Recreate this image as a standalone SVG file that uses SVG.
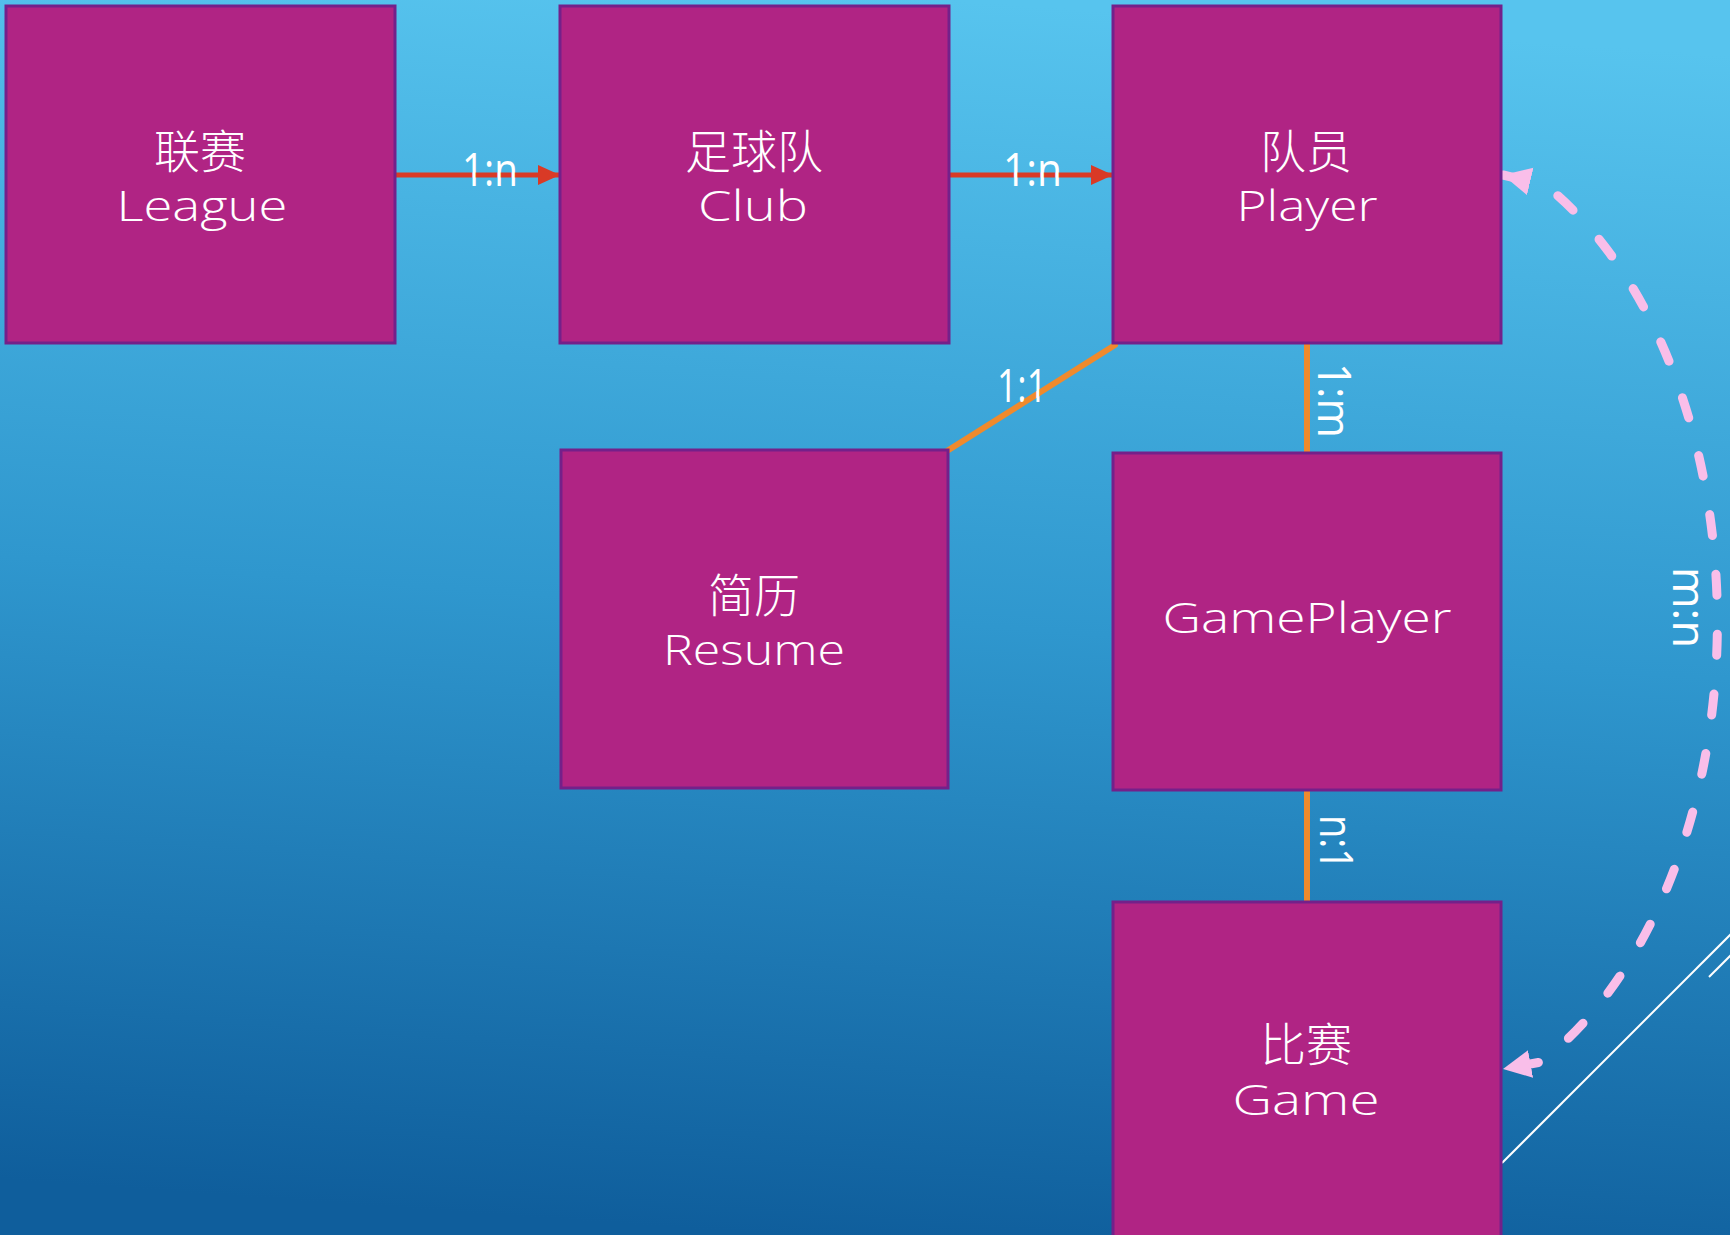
<svg xmlns="http://www.w3.org/2000/svg" width="1730" height="1235" viewBox="0 0 1730 1235">
<defs>
<linearGradient id="bg" x1="0.55" y1="0" x2="0.45" y2="1">
<stop offset="0" stop-color="#57C4EE"/>
<stop offset="0.5" stop-color="#2F97CE"/>
<stop offset="1" stop-color="#0F5E9C"/>
</linearGradient>
<marker id="redHead" markerUnits="userSpaceOnUse" markerWidth="26" markerHeight="24" refX="22" refY="11" orient="auto">
<path d="M0,1 L22,11 L0,21 Z" fill="#D93A26"/>
</marker>
<marker id="pinkHead" markerUnits="userSpaceOnUse" markerWidth="32" markerHeight="32" refX="28" refY="14" orient="auto-start-reverse">
<path d="M0,0 L28,14 L0,28 Z" fill="#F9BEE9"/>
</marker>
<style>
.box{fill:#B02484;stroke:#74208A;stroke-width:3}
.t{fill:#FFFFFF;text-anchor:middle}
.cjk{font-size:46px;font-family:"Noto Sans CJK SC","Noto Sans",sans-serif;font-weight:300}
.lat{font-size:42px;font-weight:300;font-family:"Open Sans","Lato","Noto Sans",sans-serif}
.lbl{fill:#FFFFFF;font-family:"Open Sans","Lato","Noto Sans",sans-serif;font-size:46px;font-weight:400}
.red{stroke:#D93A26;stroke-width:5;fill:none;marker-end:url(#redHead)}
.org{stroke:#F08A2C;stroke-width:6;stroke-linecap:round;fill:none}
.pink{stroke:#F9BEE9;stroke-width:9;fill:none;stroke-linecap:round;stroke-dasharray:21 39;marker-start:url(#pinkHead);marker-end:url(#pinkHead)}
.deco{stroke:#FFFFFF;stroke-width:2;fill:none}
</style>
</defs>
<rect x="0" y="0" width="1730" height="1235" fill="url(#bg)"/>
<g id="decoration">
<line class="deco" x1="1502" y1="1163" x2="1732" y2="933"/>
<line class="deco" x1="1709" y1="977" x2="1732" y2="954"/>
</g>
<g id="connectors">
<line class="red" x1="392" y1="175" x2="560" y2="175"/>
<line class="red" x1="947" y1="175" x2="1113" y2="175"/>
<line class="org" x1="1115" y1="345" x2="947" y2="451"/>
<line class="org" x1="1307" y1="343" x2="1307" y2="454"/>
<line class="org" x1="1307" y1="791" x2="1307" y2="902"/>
<path class="pink" d="M1503,175 L1545,185 A317,491 0 0 1 1541,1062 L1503,1069"/>
<text class="lbl" x="462" y="186" textLength="56" lengthAdjust="spacingAndGlyphs">1:n</text>
<text class="lbl" x="1003" y="186" textLength="59" lengthAdjust="spacingAndGlyphs">1:n</text>
<text class="lbl" x="997" y="402" textLength="50" lengthAdjust="spacingAndGlyphs">1:1</text>
<text class="lbl" transform="translate(1318,363) rotate(90)" x="0" y="0" textLength="75" lengthAdjust="spacingAndGlyphs">1:m</text>
<text class="lbl" transform="translate(1320,815) rotate(90)" x="0" y="0" textLength="55" lengthAdjust="spacingAndGlyphs">n:1</text>
<text class="lbl" transform="translate(1673,567) rotate(90)" x="0" y="0" textLength="81" lengthAdjust="spacingAndGlyphs">m:n</text>
</g>
<g id="league">
<rect class="box" x="6" y="6" width="389" height="337"/>
<text class="t cjk" x="200" y="168">联赛</text>
<text class="t lat" x="202" y="221" textLength="171" lengthAdjust="spacingAndGlyphs">League</text>
</g>
<g id="club">
<rect class="box" x="560" y="6" width="389" height="337"/>
<text class="t cjk" x="754" y="168">足球队</text>
<text class="t lat" x="753" y="221" textLength="110" lengthAdjust="spacingAndGlyphs">Club</text>
</g>
<g id="player">
<rect class="box" x="1113" y="6" width="388" height="337"/>
<text class="t cjk" x="1306" y="168">队员</text>
<text class="t lat" x="1307" y="221" textLength="141" lengthAdjust="spacingAndGlyphs">Player</text>
</g>
<g id="resume">
<rect class="box" x="561" y="450" width="387" height="338"/>
<text class="t cjk" x="754" y="612">简历</text>
<text class="t lat" x="754" y="665" textLength="182" lengthAdjust="spacingAndGlyphs">Resume</text>
</g>
<g id="gameplayer">
<rect class="box" x="1113" y="453" width="388" height="337"/>
<text class="t lat" x="1307" y="633" textLength="289" lengthAdjust="spacingAndGlyphs">GamePlayer</text>
</g>
<g id="game">
<rect class="box" x="1113" y="902" width="388" height="345"/>
<text class="t cjk" x="1306" y="1061">比赛</text>
<text class="t lat" x="1306" y="1115" textLength="147" lengthAdjust="spacingAndGlyphs">Game</text>
</g>
</svg>
